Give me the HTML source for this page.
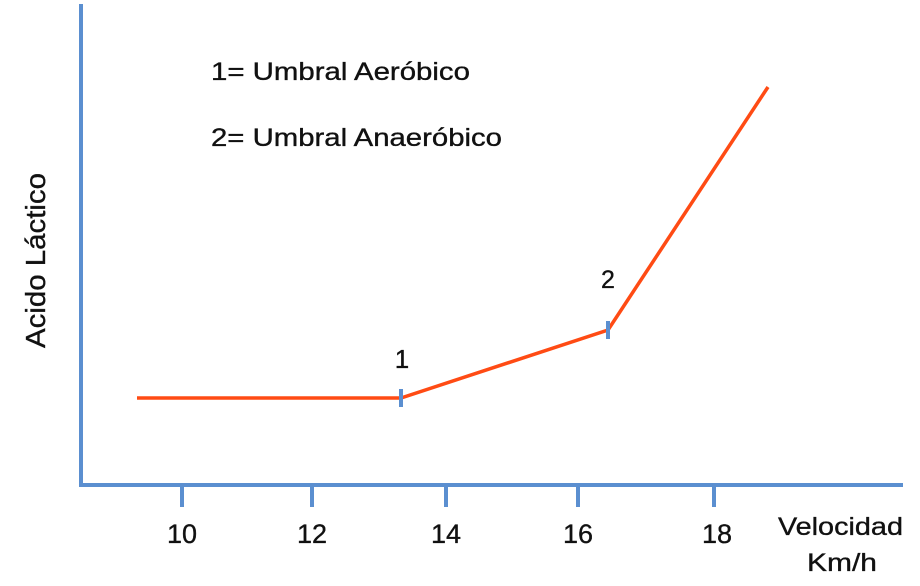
<!DOCTYPE html>
<html><head><meta charset="utf-8"><style>
html,body{margin:0;padding:0;background:#fff;}
svg{display:block;}
text{font-family:"Liberation Sans",sans-serif;fill:#111;stroke:#111;stroke-width:0.35;}
</style></head><body>
<svg width="920" height="586" viewBox="0 0 920 586" xmlns="http://www.w3.org/2000/svg">
<rect width="920" height="586" fill="#fff"/>
<!-- axes -->
<line x1="81" y1="4" x2="81" y2="487" stroke="#5b8fd0" stroke-width="4"/>
<line x1="79" y1="485" x2="903" y2="485" stroke="#5b8fd0" stroke-width="4"/>
<g stroke="#5b8fd0" stroke-width="4">
<line x1="182" y1="485" x2="182" y2="507"/>
<line x1="312" y1="485" x2="312" y2="507"/>
<line x1="446" y1="485" x2="446" y2="507"/>
<line x1="578" y1="485" x2="578" y2="507"/>
<line x1="714" y1="485" x2="714" y2="507"/>
</g>
<g font-size="27" text-anchor="middle">
<text x="182" y="543">10</text>
<text x="312" y="543">12</text>
<text x="446" y="543">14</text>
<text x="578" y="543">16</text>
<text x="717" y="543">18</text>
</g>
<text x="778" y="535" font-size="25" textLength="125" lengthAdjust="spacingAndGlyphs">Velocidad</text>
<text x="807" y="571" font-size="25" textLength="70" lengthAdjust="spacingAndGlyphs">Km/h</text>
<!-- y label -->
<text transform="translate(45,348) rotate(-90)" font-size="28" textLength="175" lengthAdjust="spacingAndGlyphs">Acido Láctico</text>
<!-- legend -->
<text x="211" y="80" font-size="25" textLength="259" lengthAdjust="spacingAndGlyphs">1= Umbral Aeróbico</text>
<text x="211" y="146" font-size="25" textLength="291" lengthAdjust="spacingAndGlyphs">2= Umbral Anaeróbico</text>
<!-- series -->
<polyline points="137,398 401,398 608,330 768,87" fill="none" stroke="#ff4b14" stroke-width="3.5" stroke-linejoin="miter"/>
<line x1="401" y1="389" x2="401" y2="407" stroke="#5b8fd0" stroke-width="4"/>
<line x1="608" y1="321" x2="608" y2="339" stroke="#5b8fd0" stroke-width="4"/>
<text x="402" y="368" font-size="26" text-anchor="middle">1</text>
<text x="608" y="288" font-size="25" text-anchor="middle">2</text>
</svg>
</body></html>
